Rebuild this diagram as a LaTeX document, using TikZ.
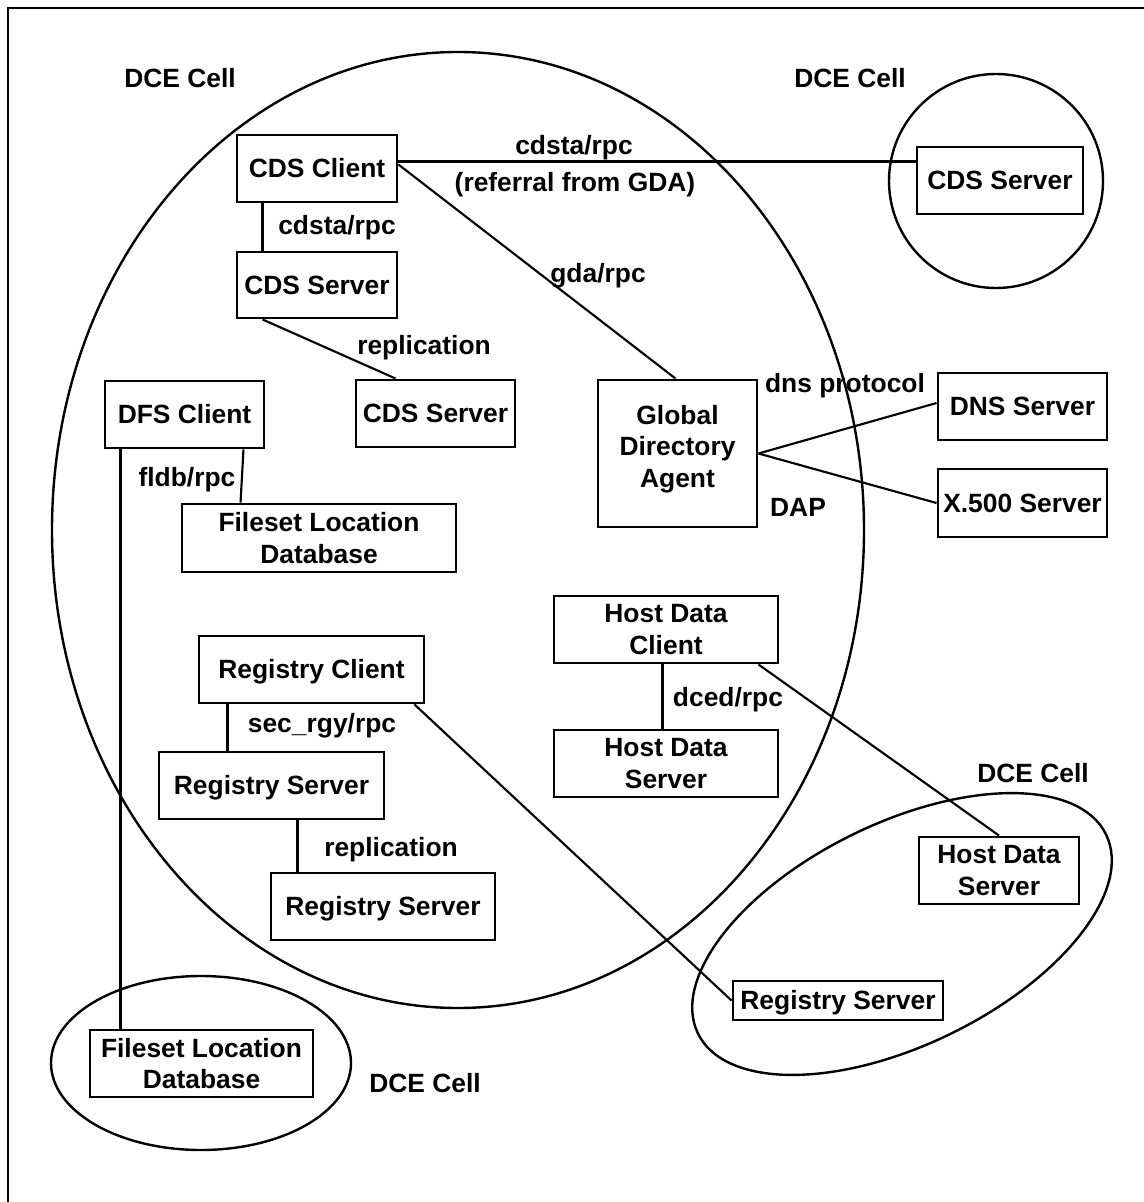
\documentclass[tikz,border=0pt]{standalone}
\usepackage{fontspec}
\setmainfont{Liberation Sans}
\usetikzlibrary{calc}
\begin{document}
\begin{tikzpicture}[x=0.75pt,y=-0.75pt,
  every node/.style={font=\fontsize{19.8}{23.6}\selectfont\bfseries},
  box/.style={draw, line width=2.2pt, inner sep=0pt, align=center},
  wh/.style 2 args={minimum width=#1*0.75pt, minimum height=#2*0.75pt},
  one/.style={text height=14.2pt, text depth=0pt},
  lbl/.style={inner sep=0pt, text height=14.2pt, text depth=0pt},
  conn/.style={line width=1.6pt},
  cell/.style={line width=1.8pt},
  frame/.style={line width=2.2pt}
]
\useasboundingbox (0,0) rectangle (1144,1202);
% frame
\draw[frame] (1144,8) -- (8,8) -- (8,1202);
% cells
\draw[cell] (458,530) ellipse [x radius=406, y radius=478];
\draw[cell] (996,181) circle [radius=107];
\draw[cell] (201,1063) ellipse [x radius=150, y radius=87];
\draw[cell, rotate around={26:(902,934)}] (902,934) ellipse [x radius=227, y radius=111];
% boxes
\node[box,one,wh={160}{67}] (cdsc) at (317,168.5) {CDS Client};
\node[box,one,wh={160}{66}] (cdss1) at (317,285) {CDS Server};
\node[box,one,wh={159}{67}] (cdss2) at (435.5,413.5) {CDS Server};
\node[box,one,wh={166}{67}] (cdsr) at (1000,180.5) {CDS Server};
\node[box,wh={159}{147}] (gda) at (677.5,453.5) {\raisebox{3pt}[\height][\depth]{\begin{tabular}{@{}c@{}}Global\\Directory\\Agent\end{tabular}}};
\node[box,one,wh={169}{67}] (dns) at (1022.5,406.5) {DNS Server};
\node[box,one,wh={169}{68}] (x500) at (1022.5,503) {X.500 Server};
\node[box,one,wh={159}{67}] (dfsc) at (184.5,414.5) {DFS Client};
\node[box,wh={274}{68}] (fldba) at (319,538) {Fileset Location\\Database};
\node[box,one,wh={225}{67}] (regc) at (311.5,669.5) {Registry Client};
\node[box,one,wh={225}{67}] (regsa) at (271.5,785.5) {Registry Server};
\node[box,one,wh={224}{67}] (regsb) at (383,906.5) {Registry Server};
\node[box,wh={224}{67}] (hdc) at (666,629.5) {Host Data\\Client};
\node[box,wh={224}{67}] (hdsa) at (666,763.5) {Host Data\\Server};
\node[box,wh={160}{67}] (hdsb) at (999,870.5) {Host Data\\Server};
\node[box,one,wh={210}{39}] (regsc) at (838,1000.5) {Registry Server};
\node[box,wh={223}{67}] (fldbb) at (201.5,1063.5) {Fileset Location\\Database};
% connectors
\draw[conn] ($(cdsc.south west)+(27,0)$) -- ($(cdss1.north west)+(27,0)$);
\draw[conn] ($(cdss1.south west)+(27,0)$) -- ($(cdss2.north west)+(41,0)$);
\draw[conn] ($(cdsc.north east)+(0,28)$) -- ($(cdsr.north west)+(0,16)$);
\draw[conn] ($(cdsc.north east)+(0,31)$) -- ($(gda.north)+(-2,0)$);
\draw[conn] (gda.east) -- ($(dns.west)+(0,-3.5)$);
\draw[conn] (gda.east) -- (x500.west);
\draw[conn] ($(dfsc.south east)+(-22,0)$) -- ($(fldba.north west)+(60,0)$);
\draw[conn] ($(dfsc.south west)+(17,0)$) -- ($(fldbb.north west)+(32,0)$);
\draw[conn] ($(regc.south west)+(30,0)$) -- ($(regsa.north west)+(70,0)$);
\draw[conn] ($(regsa.south west)+(140,0)$) -- ($(regsb.north west)+(28,0)$);
\draw[conn] ($(regc.south east)+(-11,0)$) -- (regsc.west);
\draw[conn] ($(hdc.south west)+(110,0)$) -- ($(hdsa.north west)+(110,0)$);
\draw[conn] ($(hdc.south east)+(-21,0)$) -- (hdsb.north);
% labels
\node[lbl] (c1) at (180,78) {DCE Cell};
\node[lbl] (c2) at (850,78) {DCE Cell};
\node[lbl] (c3) at (1033,773) {DCE Cell};
\node[lbl] (c4) at (425,1083) {DCE Cell};
\node[lbl] (l1) at (337,225) {cdsta/rpc};
\node[lbl] (l2) at (574,145) {cdsta/rpc};
\node[lbl] (l3) at (575,182) {(referral from GDA)};
\node[lbl] (l4) at (598,273) {gda/rpc};
\node[lbl] (l5) at (424,345) {replication};
\node[lbl] (l6) at (845,383) {dns protocol};
\node[lbl] (l7) at (798,507) {DAP};
\node[lbl] (l8) at (187,477) {fldb/rpc};
\node[lbl] (l9) at (322,723) {sec\_rgy/rpc};
\node[lbl] (l10) at (391,847) {replication};
\node[lbl] (l11) at (728,697) {dced/rpc};
\end{tikzpicture}
\end{document}
